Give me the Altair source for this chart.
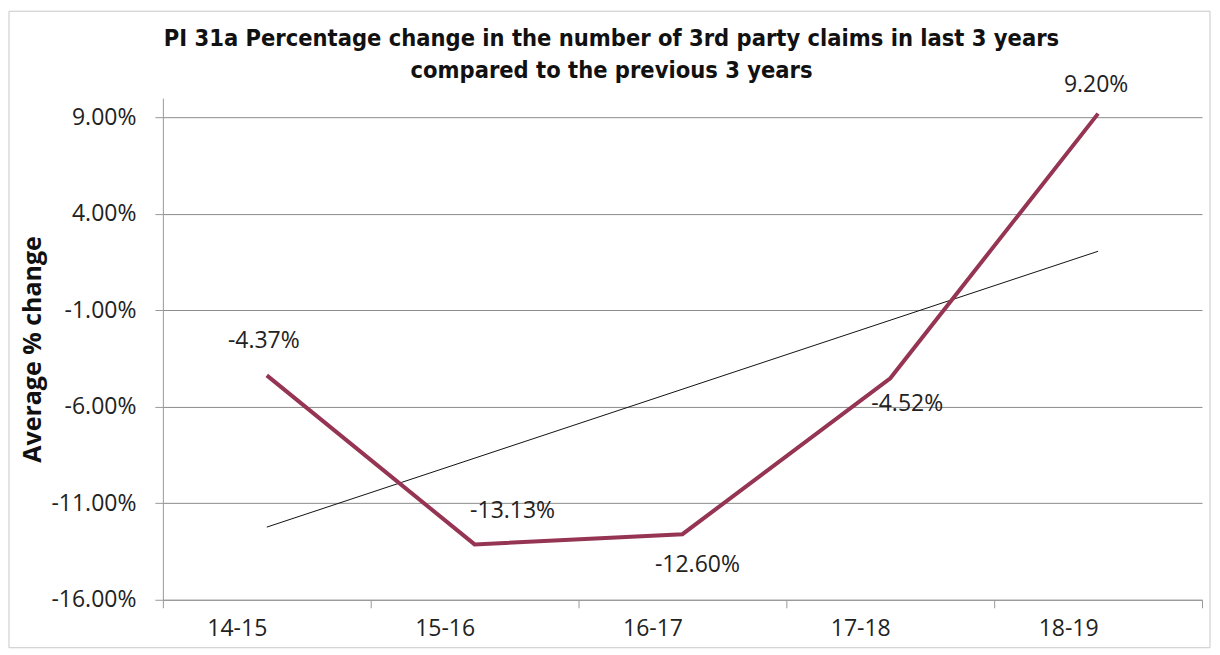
import altair as alt
import pandas as pd

years = ["14-15", "15-16", "16-17", "17-18", "18-19"]
values = [-4.37, -13.13, -12.60, -4.52, 9.20]
y_ticks = [-16, -11, -6, -1, 4, 9]
title_lines = ["PI 31a Percentage change in the number of 3rd party claims in last 3 years",
               "compared to the previous 3 years"]

df = pd.DataFrame({"year": years, "value": values, "idx": list(range(len(years)))})

FONT = "Open Sans"
TITLE_FONT = "DejaVu Sans Condensed"
LINE_COLOR = "#953553"
FMT = "replace(format(datum.value, '.2f'), '\u2212', '-') + '%'"

x_enc = alt.X("year:O", sort=years, scale=alt.Scale(paddingInner=0, paddingOuter=0),
              axis=alt.Axis(title=None, labelAngle=0, tickBand="extent", labelFont=FONT,
                            labelFontSize=23, labelColor="#222", labelPadding=21,
                            domainColor="#999", tickColor="#999", tickSize=8, grid=False))
y_scale = alt.Scale(domain=[-16, 10], nice=False, zero=False)
y_enc = alt.Y("value:Q", scale=y_scale,
              axis=alt.Axis(title="Average % change", values=y_ticks,
                            labelExpr=FMT,
                            labelFont=FONT, labelFontSize=23, labelColor="#222",
                            labelPadding=19, tickSize=8, tickColor="#999",
                            domainColor="#999", gridColor="#8c8c8c", gridWidth=1,
                            titleFont=FONT, titleFontSize=25, titleFontWeight="bold",
                            titleColor="#111", titlePadding=5))

base = alt.Chart(df)

line = base.mark_line(color=LINE_COLOR, strokeWidth=4, clip=False).encode(x=x_enc, y=y_enc)

trend = base.transform_regression("idx", "value", extent=[0, 4]).transform_calculate(
    year="['14-15','15-16','16-17','17-18','18-19'][datum.idx]"
).mark_line(color="#111", strokeWidth=1).encode(x=alt.X("year:O", sort=years), y="value:Q")

label_offsets = {"14-15": (-3, -34), "15-16": (38, -33), "16-17": (15, 31),
                 "17-18": (17, 26), "18-19": (-2, -29)}
labels = []
for yr, (dx, dy) in label_offsets.items():
    labels.append(
        base.transform_filter(alt.datum.year == yr)
        .transform_calculate(lbl=FMT)
        .mark_text(font=FONT, fontSize=23, color="#222", dx=dx, dy=dy)
        .encode(x=alt.X("year:O", sort=years), y="value:Q", text="lbl:N")
    )

title_marks = []
for i, t in enumerate(title_lines):
    title_marks.append(
        alt.Chart(pd.DataFrame({"t": [t]})).mark_text(
            font=TITLE_FONT, fontSize=23.5, fontWeight="bold", color="#111",
            align="center", baseline="middle", clip=False
        ).encode(x=alt.value(449), y=alt.value(-59 + 32 * i), text="t:N")
    )

border = alt.Chart(pd.DataFrame({"a": [0]})).mark_rect(
    fill=None, stroke="#c8c8c8", strokeWidth=1, clip=False
).encode(x=alt.value(-154), x2=alt.value(1048), y=alt.value(-87), y2=alt.value(550))

chart = alt.layer(border, trend, line, *labels, *title_marks).properties(
    width=1040, height=502,
    padding={"left": 155, "top": 90, "right": 10, "bottom": 50},
    autosize=alt.AutoSizeParams(type="none"),
).configure_view(stroke=None)

chart.save("out.html", embed_options={"renderer": "svg", "actions": False})
